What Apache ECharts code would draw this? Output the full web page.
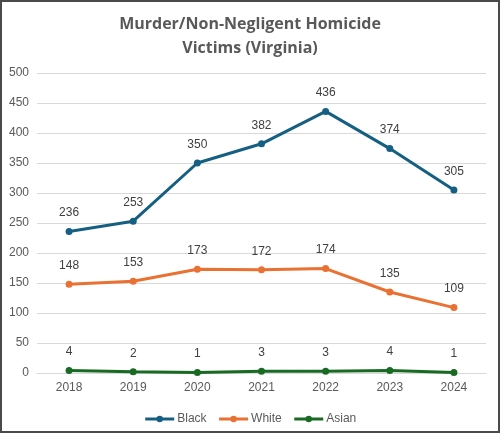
<!DOCTYPE html>
<html>
<head>
<meta charset="utf-8">
<script src="https://cdn.jsdelivr.net/npm/echarts@6/dist/echarts.min.js"></script>
<style>
  html, body { margin: 0; padding: 0; background: #fff; }
  #chart { width: 500px; height: 433px; box-sizing: border-box; border: 2px solid #4a4a4a; }
</style>
</head>
<body>
<div id="chart"></div>
<script>
// data
const years = ['2018', '2019', '2020', '2021', '2022', '2023', '2024'];
const black = [236, 253, 350, 382, 436, 374, 305];
const white = [148, 153, 173, 172, 174, 135, 109];
const asian = [4, 2, 1, 3, 3, 4, 1];
const seriesNames = ['Black', 'White', 'Asian'];
const colors = ['#156082', '#E97132', '#196B24'];

const chart = echarts.init(document.getElementById('chart'));

function makeSeries(name, data, color) {
  return {
    name: name,
    type: 'line',
    data: data,
    symbol: 'circle',
    symbolSize: 7,
    lineStyle: { width: 3, color: color },
    itemStyle: { color: color },
    label: {
      show: true,
      position: 'top',
      distance: 9,
      color: '#404040',
      fontSize: 12,
      fontFamily: 'Liberation Sans, sans-serif'
    }
  };
}

chart.setOption({
  animation: false,
  color: colors,
  title: {
    text: 'Murder/Non-Negligent Homicide\nVictims (Virginia)',
    left: 'center',
    top: 5,
    textStyle: {
      color: '#595959',
      fontSize: 16,
      fontWeight: 'bold',
      fontFamily: 'Open Sans, sans-serif',
      lineHeight: 24
    }
  },
  legend: {
    bottom: 1,
    left: 'center',
    itemWidth: 29,
    itemHeight: 8,
    itemGap: 11,
    data: seriesNames,
    lineStyle: { width: 3 },
    textStyle: { color: '#595959', fontSize: 12, fontFamily: 'Liberation Sans, sans-serif', padding: [0, 0, 0, -2] }
  },
  grid: { left: 35, right: 12, top: 71, bottom: 58 },
  xAxis: {
    type: 'category',
    data: years,
    axisLine: { show: true, lineStyle: { color: '#d9d9d9' } },
    axisTick: { show: false },
    axisLabel: { color: '#595959', fontSize: 12, margin: 9, fontFamily: 'Liberation Sans, sans-serif' }
  },
  yAxis: {
    type: 'value',
    min: 0,
    max: 500,
    interval: 50,
    axisLine: { show: false },
    axisTick: { show: false },
    axisLabel: { color: '#595959', fontSize: 12, margin: 8, fontFamily: 'Liberation Sans, sans-serif' },
    splitLine: { lineStyle: { color: '#d9d9d9' } }
  },
  series: [
    makeSeries('Black', black, colors[0]),
    makeSeries('White', white, colors[1]),
    makeSeries('Asian', asian, colors[2])
  ]
});
</script>
</body>
</html>
